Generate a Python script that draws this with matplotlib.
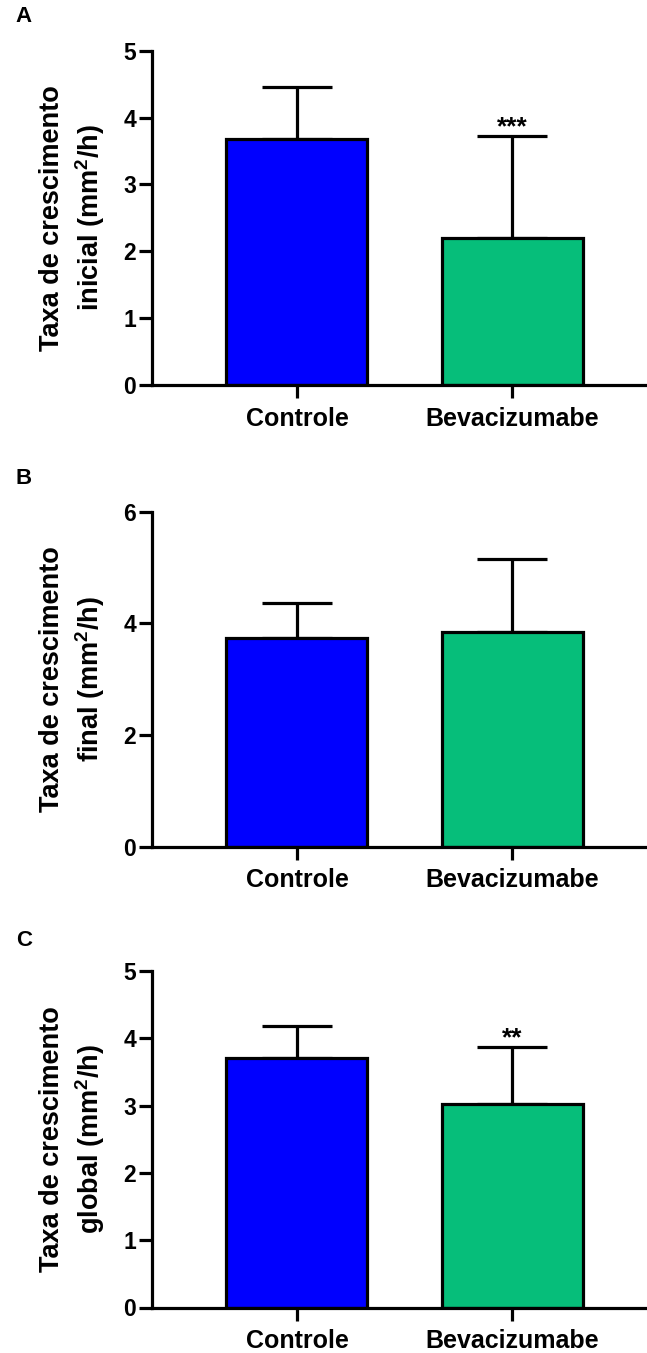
import matplotlib
matplotlib.use("Agg")
import matplotlib.pyplot as plt

plt.rcParams['font.family'] = ['Liberation Sans', 'DejaVu Sans']
plt.rcParams['font.weight'] = 'bold'
plt.rcParams['mathtext.default'] = 'regular'

groups = ['Controle', 'Bevacizumabe']
colors = ['#0000FF', '#06BE7A']

# growth rates (mm2/h): mean and SD for each phase
inicial_mean = [3.68, 2.20]
inicial_sd = [0.78, 1.52]
final_mean = [3.74, 3.85]
final_sd = [0.62, 1.30]
global_mean = [3.71, 3.02]
global_sd = [0.48, 0.85]

panels = [
    ('A', 'inicial', inicial_mean, inicial_sd, 5, [0, 1, 2, 3, 4, 5], ['', '***']),
    ('B', 'final', final_mean, final_sd, 6, [0, 2, 4, 6], ['', '']),
    ('C', 'global', global_mean, global_sd, 5, [0, 1, 2, 3, 4, 5], ['', '**']),
]

W, H = 647, 1353
fig = plt.figure(figsize=(W / 100, H / 100), dpi=100)

# axes boxes in pixels: (top, bottom)
boxes = [(50.7, 385.0), (511.7, 846.7), (971.0, 1307.5)]
letter_y = [17, 478, 941]
left_px = 152.3
lw = 2.3

for (letter, fase, mean, sd, ymax, ticks, stars), (top, bot), ly in zip(panels, boxes, letter_y):
    ax = fig.add_axes([left_px / W, 1 - bot / H, 1 - left_px / W, (bot - top) / H])
    x = [0, 1]
    ax.errorbar(x, mean, yerr=[[0, 0], sd], fmt='none', ecolor='black',
                elinewidth=lw, capsize=25, capthick=lw, zorder=1)
    ax.bar(x, mean, width=0.655, color=colors, edgecolor='black', linewidth=lw, zorder=2)
    for xi, m, s, st in zip(x, mean, sd, stars):
        if st:
            ax.annotate(st, (xi, m + s), xytext=(0, 1.5), textcoords='offset points',
                        ha='center', va='baseline', fontsize=19, fontweight='bold')

    ax.set_xlim(-0.672, 1.626)
    ax.set_ylim(0, ymax)
    ax.set_yticks(ticks)
    ax.set_xticks(x)
    ax.set_xticklabels(groups, fontsize=18, fontweight='bold')
    ax.tick_params(axis='y', labelsize=16.5, width=lw, length=9.5, pad=2)
    ax.tick_params(axis='x', width=lw, length=9.5, pad=6)
    for lab in ax.get_yticklabels():
        lab.set_fontweight('bold')
    for side in ['top', 'right']:
        ax.spines[side].set_visible(False)
    for side in ['left', 'bottom']:
        ax.spines[side].set_linewidth(lw)

    ycen = 1 - (top + bot) / 2 / H
    fig.text(73 / W, ycen, 'Taxa de crescimento\n' + fase + ' (mm$^2$/h)',
             rotation=90, ha='center', va='center', fontsize=19.5,
             fontweight='bold', multialignment='center', linespacing=1.3)
    fig.text(24 / W, 1 - ly / H, letter, ha='center', va='center',
             fontsize=16, fontweight='bold')

fig.savefig('out.png', dpi=100)
